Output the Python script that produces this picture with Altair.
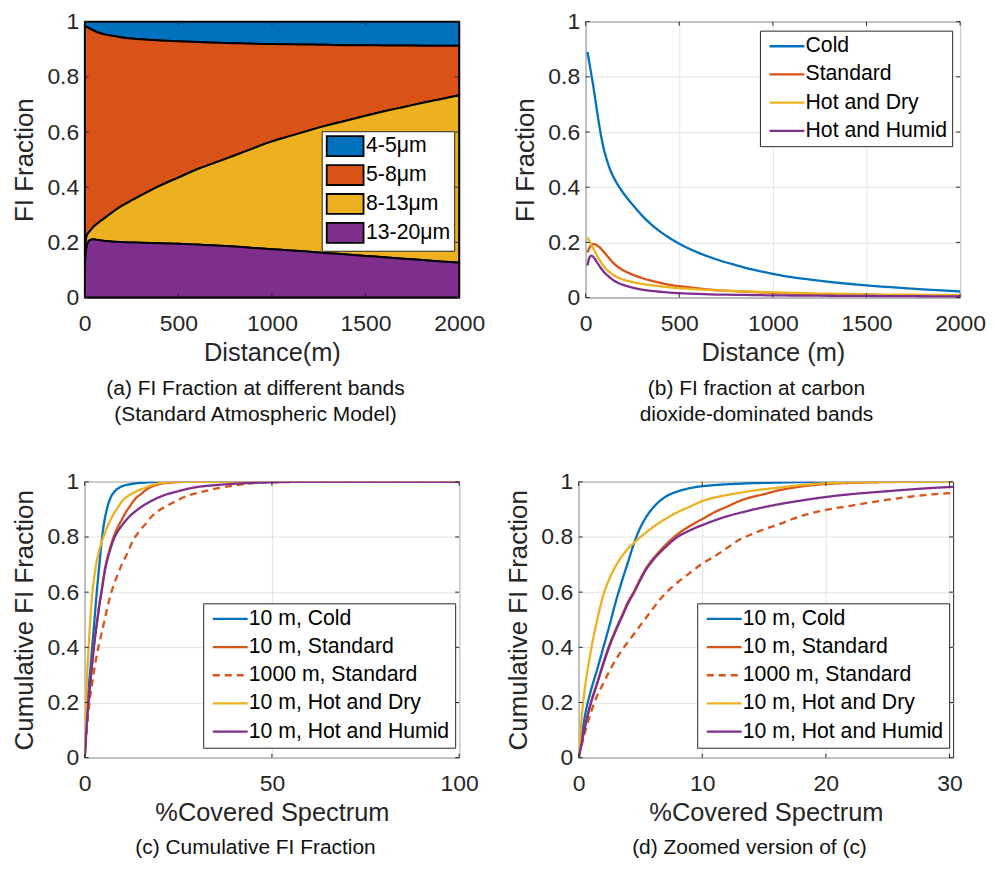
import altair as alt
import pandas as pd

FONT = "Liberation Sans"
TXT = "#262626"

# ---------------- (a) FI fraction at different bands ----------------
bands = ["4-5μm", "5-8μm", "8-13μm", "13-20μm"]
band_colors = ["#0072BD", "#D95319", "#EDB120", "#7E2F8E"]
dist_a = [1, 5, 10, 20, 30, 45, 60, 80, 100, 130, 160, 200, 250, 300, 400, 500,
          600, 700, 800, 900, 1000, 1100, 1200, 1300, 1400, 1500, 1600, 1700,
          1800, 1900, 2000]
# cumulative upper boundaries of the stacked bands
top_13_20 = [0.12, 0.16, 0.185, 0.203, 0.209, 0.211, 0.21, 0.208, 0.206, 0.204,
             0.202, 0.201, 0.2, 0.199, 0.197, 0.195, 0.192, 0.189, 0.185, 0.18,
             0.175, 0.171, 0.166, 0.161, 0.156, 0.151, 0.146, 0.141, 0.136, 0.131,
             0.126]
top_8_13 = [0.16, 0.2, 0.222, 0.235, 0.243, 0.255, 0.264, 0.275, 0.285, 0.3,
            0.315, 0.333, 0.352, 0.37, 0.405, 0.435, 0.465, 0.49, 0.515, 0.541,
            0.566, 0.586, 0.606, 0.625, 0.642, 0.659, 0.675, 0.69, 0.705, 0.719,
            0.733]
top_5_8 = [0.985, 0.983, 0.981, 0.978, 0.974, 0.969, 0.964, 0.959, 0.955, 0.951,
           0.948, 0.943, 0.939, 0.936, 0.932, 0.929, 0.926, 0.924, 0.922, 0.92,
           0.919, 0.918, 0.917, 0.916, 0.915, 0.915, 0.914, 0.914, 0.913, 0.913,
           0.913]

# ---------------- (b) FI fraction at CO2-dominated bands ----------------
atmos = ["Cold", "Standard", "Hot and Dry", "Hot and Humid"]
atmos_colors = ["#0072BD", "#D95319", "#EDB120", "#7E2F8E"]
dist_b = [10, 20, 30, 40, 50, 60, 75, 90, 100, 115, 130, 150, 175, 200, 250, 300,
          350, 400, 450, 500, 600, 700, 800, 900, 1000, 1100, 1200, 1300, 1400,
          1500, 1600, 1700, 1800, 1900, 2000]
cold_b = [0.89, 0.85, 0.81, 0.77, 0.725, 0.68, 0.615, 0.56, 0.53, 0.495, 0.465,
          0.435, 0.405, 0.38, 0.337, 0.298, 0.265, 0.238, 0.215, 0.195, 0.163,
          0.138, 0.118, 0.1, 0.086, 0.074, 0.065, 0.057, 0.05, 0.044, 0.039,
          0.034, 0.03, 0.026, 0.022]
standard_b = [0.164, 0.18, 0.19, 0.194, 0.193, 0.19, 0.182, 0.171, 0.163, 0.151,
              0.139, 0.124, 0.11, 0.099, 0.083, 0.071, 0.061, 0.053, 0.046, 0.041,
              0.033, 0.027, 0.023, 0.02, 0.017, 0.015, 0.013, 0.012, 0.011, 0.01,
              0.009, 0.008, 0.007, 0.007, 0.006]
hot_dry_b = [0.218, 0.205, 0.192, 0.18, 0.166, 0.153, 0.136, 0.12, 0.111, 0.1,
             0.091, 0.081, 0.072, 0.065, 0.056, 0.05, 0.045, 0.041, 0.037, 0.034,
             0.03, 0.026, 0.023, 0.021, 0.019, 0.017, 0.015, 0.014, 0.013, 0.012,
             0.011, 0.011, 0.01, 0.01, 0.009]
hot_humid_b = [0.116, 0.145, 0.152, 0.148, 0.139, 0.128, 0.113, 0.099, 0.091,
               0.081, 0.072, 0.062, 0.053, 0.046, 0.036, 0.029, 0.024, 0.021,
               0.018, 0.016, 0.013, 0.011, 0.01, 0.009, 0.008, 0.0075, 0.007,
               0.0065, 0.006, 0.0058, 0.0055, 0.005, 0.0047, 0.0044, 0.004]

# ---------------- (c)/(d) cumulative FI fraction ----------------
cum_series = ["10 m, Cold", "10 m, Standard", "1000 m, Standard",
              "10 m, Hot and Dry", "10 m, Hot and Humid"]
cum_colors = ["#0072BD", "#D95319", "#D95319", "#EDB120", "#7E2F8E"]
cum_dashes = [[1, 0], [1, 0], [7, 5], [1, 0], [1, 0]]
pct = [0, 0.25, 0.5, 1, 1.5, 2, 2.5, 3, 3.5, 4, 4.5, 5, 5.5, 6, 7, 8, 9, 10, 11,
       12, 13, 14, 15, 16, 18, 20, 22, 25, 28, 30, 35, 40, 45, 50, 60, 70, 80,
       90, 100]
cold_c = [0, 0.08, 0.15, 0.245, 0.32, 0.4, 0.48, 0.565, 0.64, 0.71, 0.78, 0.835,
          0.875, 0.905, 0.945, 0.965, 0.977, 0.984, 0.988, 0.991, 0.993, 0.995,
          0.996, 0.997, 0.999, 1, 1, 1, 1, 1, 1, 1, 1, 1, 1, 1, 1, 1, 1]
std10_c = [0, 0.055, 0.11, 0.2, 0.27, 0.345, 0.41, 0.465, 0.515, 0.565, 0.605,
           0.65, 0.69, 0.72, 0.77, 0.81, 0.84, 0.865, 0.89, 0.91, 0.93, 0.945,
           0.955, 0.967, 0.983, 0.992, 0.996, 0.999, 1, 1, 1, 1, 1, 1, 1, 1, 1,
           1, 1]
std1000_c = [0, 0.045, 0.09, 0.165, 0.225, 0.27, 0.315, 0.355, 0.39, 0.42, 0.45,
             0.48, 0.51, 0.54, 0.595, 0.635, 0.67, 0.703, 0.73, 0.76, 0.79, 0.81,
             0.828, 0.843, 0.876, 0.898, 0.913, 0.935, 0.952, 0.959, 0.975,
             0.987, 0.995, 0.999, 1, 1, 1, 1, 1]
hot_dry_c = [0, 0.15, 0.25, 0.39, 0.5, 0.59, 0.65, 0.695, 0.73, 0.758, 0.78,
             0.8, 0.818, 0.835, 0.865, 0.89, 0.91, 0.93, 0.943, 0.952, 0.96,
             0.967, 0.973, 0.978, 0.988, 0.995, 0.998, 1, 1, 1, 1, 1, 1, 1, 1,
             1, 1, 1, 1]
hot_humid_c = [0, 0.055, 0.11, 0.2, 0.27, 0.34, 0.405, 0.46, 0.51, 0.56, 0.6,
               0.645, 0.685, 0.715, 0.762, 0.8, 0.824, 0.843, 0.86, 0.875, 0.887,
               0.898, 0.908, 0.917, 0.932, 0.945, 0.955, 0.966, 0.976, 0.981,
               0.988, 0.993, 0.996, 0.998, 1, 1, 1, 1, 1]

y_ticks = [0, 0.2, 0.4, 0.6, 0.8, 1]
dist_ticks = [0, 500, 1000, 1500, 2000]
pct_ticks_c = [0, 50, 100]
pct_ticks_d = [0, 10, 20, 30]

W, H = 376, 277
TL = 4  # inward tick length

# ---- build tables ----
rows = []
for i, d in enumerate(dist_a):
    spans = [("4-5μm", top_5_8[i], 1.0), ("5-8μm", top_8_13[i], top_5_8[i]),
             ("8-13μm", top_13_20[i], top_8_13[i]), ("13-20μm", 0.0, top_13_20[i])]
    for b, lo, hi in spans:
        rows.append({"distance": d, "band": b, "lo": lo, "hi": hi})
df_a = pd.DataFrame(rows)

rows = []
for name, vals in zip(atmos, [cold_b, standard_b, hot_dry_b, hot_humid_b]):
    for d, v in zip(dist_b, vals):
        rows.append({"distance": d, "value": v, "series": name})
df_b = pd.DataFrame(rows)

rows = []
for name, vals in zip(cum_series, [cold_c, std10_c, std1000_c, hot_dry_c, hot_humid_c]):
    for p, v in zip(pct, vals):
        rows.append({"pct": p, "value": v, "series": name})
df_c = pd.DataFrame(rows)


def caption(lines, offset=12):
    return alt.TitleParams(text=lines, orient="bottom", anchor="middle",
                           fontSize=21, fontWeight="normal", font=FONT,
                           color="#111111", lineHeight=26, offset=offset, dx=-16.5)


def y_axis(title, grid=True):
    return alt.Axis(title=title, values=y_ticks, format="~g", grid=grid)


def inward_ticks(xfield, xvals, yfield, yvals):
    tx = pd.DataFrame({xfield: xvals})
    ty = pd.DataFrame({yfield: yvals})
    rule = dict(color=TXT, strokeWidth=1)
    return [
        alt.Chart(tx).mark_rule(**rule).encode(x=f"{xfield}:Q", y=alt.value(H), y2=alt.value(H - TL)),
        alt.Chart(tx).mark_rule(**rule).encode(x=f"{xfield}:Q", y=alt.value(0), y2=alt.value(TL)),
        alt.Chart(ty).mark_rule(**rule).encode(y=f"{yfield}:Q", x=alt.value(0), x2=alt.value(TL)),
        alt.Chart(ty).mark_rule(**rule).encode(y=f"{yfield}:Q", x=alt.value(W - TL), x2=alt.value(W)),
    ]


line_legend = dict(orient="none", symbolType="M-3.5,0L3.5,0", symbolSize=100,
                   symbolStrokeWidth=2.3, symbolOffset=11.5, labelOffset=8,
                   padding=5, rowPadding=6.3)

LW = 2.3

# (a)
area_a = alt.Chart(df_a).mark_area(stroke="black", strokeWidth=2, opacity=1,
                                   interpolate="monotone").encode(
    x=alt.X("distance:Q", scale=alt.Scale(domain=[0, 2000], nice=False),
            axis=alt.Axis(title="Distance(m)", values=dist_ticks, format="d", grid=False)),
    y=alt.Y("lo:Q", scale=alt.Scale(domain=[0, 1], nice=False), axis=y_axis("FI Fraction", grid=False)),
    y2="hi:Q",
    color=alt.Color("band:N", title=None,
                    scale=alt.Scale(domain=bands, range=band_colors),
                    legend=alt.Legend(orient="none", legendX=238, legendY=110,
                                      symbolType="M-1.85,-1L1.85,-1L1.85,1L-1.85,1Z",
                                      symbolSize=400, symbolStrokeColor="black",
                                      symbolStrokeWidth=1.8, symbolOffset=8.5,
                                      labelOffset=10, padding=4, rowPadding=1,
                                      symbolOpacity=1)),
)
chart_a = alt.layer(area_a, *inward_ticks("distance", dist_ticks, "lo", y_ticks)).properties(
    width=W, height=H,
    title=caption(["(a) FI Fraction at different bands", "(Standard Atmospheric Model)"]))

# (b)
lines_b = alt.Chart(df_b).mark_line(strokeWidth=LW, interpolate="monotone").encode(
    x=alt.X("distance:Q", scale=alt.Scale(domain=[0, 2000], nice=False),
            axis=alt.Axis(title="Distance (m)", values=dist_ticks, format="d")),
    y=alt.Y("value:Q", scale=alt.Scale(domain=[0, 1], nice=False), axis=y_axis("FI Fraction")),
    color=alt.Color("series:N", title=None,
                    scale=alt.Scale(domain=atmos, range=atmos_colors),
                    legend=alt.Legend(legendX=175, legendY=9, **line_legend)),
)
chart_b = alt.layer(lines_b, *inward_ticks("distance", dist_ticks, "value", y_ticks)).properties(
    width=W, height=H,
    title=caption(["(b) FI fraction at carbon", "dioxide-dominated bands"]))


def cum_chart(domain_max, ticks, cap):
    leg = alt.Legend(legendX=119, legendY=122, **line_legend)
    lines = alt.Chart(df_c).mark_line(strokeWidth=LW, clip=True, interpolate="monotone").encode(
        x=alt.X("pct:Q", scale=alt.Scale(domain=[0, domain_max], nice=False),
                axis=alt.Axis(title="%Covered Spectrum", values=ticks, format="d")),
        y=alt.Y("value:Q", scale=alt.Scale(domain=[0, 1], nice=False),
                axis=y_axis("Cumulative FI Fraction")),
        color=alt.Color("series:N", title=None,
                        scale=alt.Scale(domain=cum_series, range=cum_colors), legend=leg),
        strokeDash=alt.StrokeDash("series:N", title=None,
                                  scale=alt.Scale(domain=cum_series, range=cum_dashes), legend=leg),
    )
    return alt.layer(lines, *inward_ticks("pct", ticks, "value", y_ticks)).properties(
        width=W, height=H, title=caption([cap], offset=11))


chart_c = cum_chart(100, pct_ticks_c, "(c) Cumulative FI Fraction")
chart_d = cum_chart(30.3, pct_ticks_d, "(d) Zoomed version of (c)")


def indep(c):
    return c.resolve_scale(color="independent", strokeDash="independent").resolve_legend(
        color="independent", strokeDash="independent")


chart = indep(alt.vconcat(
    indep(alt.hconcat(chart_a, chart_b, spacing=26)),
    indep(alt.hconcat(chart_c, chart_d, spacing=26)),
    spacing=45,
)).properties(
    padding={"left": 3, "top": 0, "right": 0, "bottom": 0}
).configure(font=FONT).configure_axis(
    labelFont=FONT, titleFont=FONT, labelFontSize=23, titleFontSize=25.5,
    titleFontWeight="normal", labelColor=TXT, titleColor=TXT, domain=False,
    ticks=False, gridColor="#e3e3e3", gridWidth=1, labelFlush=False,
).configure_axisX(labelPadding=15, titlePadding=5).configure_axisY(
    labelPadding=6, titlePadding=9, titleFontSize=26
).configure_view(stroke=TXT, strokeWidth=1).configure_legend(
    labelFont=FONT, labelFontSize=21.3, labelColor="#000000", fillColor="white",
    strokeColor=TXT, labelLimit=300,
)

chart.save("out.html", embed_options={"renderer": "svg", "actions": False})
